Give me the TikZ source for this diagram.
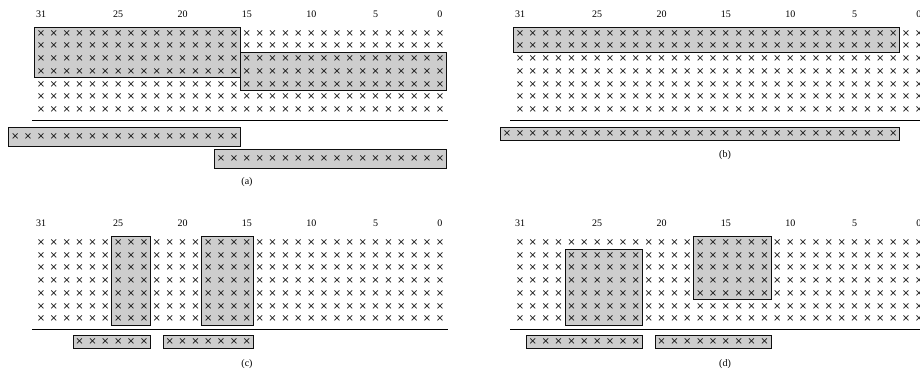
\documentclass[tikz,border=0pt]{standalone}
\usepackage{fontspec}
\setmainfont{Liberation Serif}
\newfontfamily\markfont{DejaVu Sans}
\definecolor{boxgray}{RGB}{205,205,205}
\definecolor{inkgray}{RGB}{15,15,15}
\tikzset{
  markx/.style={inner sep=0pt, font=\markfont\fontsize{10}{10}\selectfont, text=inkgray},
  bitlabel/.style={inner sep=0pt, font=\fontsize{10}{12}\selectfont},
  caption/.style={inner sep=0pt, font=\fontsize{10}{12}\selectfont},
  fieldbox/.style={draw=inkgray, line width=0.8pt, fill=boxgray},
  rule/.style={line width=0.8pt, draw=black},
}
\newcommand\bitx[1]{(41+(31-(#1))*12.87)}
\newcommand\rowy[1]{(33.3+((#1)-1)*12.7)}
% grid of marks for a panel
\newcommand\bitgrid[1]{%
  \foreach \r in {1,...,7}{%
    \foreach \c in {0,...,31}{%
      \node[markx] (#1-\r-\c) at ({\bitx{\c}},{\rowy{\r}}) {×};
    }%
  }%
  \foreach \c in {31,25,20,15,10,5,0}{%
    \node[bitlabel] (#1-l\c) at ({\bitx{\c}},14) {\c};
  }%
}
% shaded field in the grid: col hi, col lo, row top, row bottom
\newcommand\fieldrect[4]{%
  \path[fieldbox] ({\bitx{#1}-6.43},{\rowy{#3}-6.35}) rectangle ({\bitx{#2}+6.43},{\rowy{#4}+6.35});}
% result box below the rule: name, col hi, col lo, y centre, half height
\newcommand\outbox[5]{%
  \path[fieldbox] ({\bitx{#2}-6.43},{#4-#5}) rectangle ({\bitx{#3}+6.43},{#4+#5});
  \foreach \c in {#3,...,#2}{\node[markx] (#1-\c) at ({\bitx{\c}},#4) {×};}}
\begin{document}
\begin{tikzpicture}[x=1pt,y=-1pt]
\clip (0,0) rectangle (920,376);
% ---------- (a)
\begin{scope}
  \fieldrect{31}{16}{1}{4}
  \fieldrect{15}{0}{3}{5}
  \bitgrid{a}
  \coordinate (a-rl) at (32,120);
  \coordinate (a-rr) at (448,120);
  \draw[rule] (a-rl) -- (a-rr);
  \outbox{a-o1}{33}{16}{136.8}{9.2}
  \outbox{a-o2}{17}{0}{159}{9.8}
  \node[caption] (a-cap) at (247,182) {(a)};
\end{scope}
% ---------- (b)
\begin{scope}[shift={(479,0)}]
  \fieldrect{31}{2}{1}{2}
  \bitgrid{b}
  \coordinate (b-rl) at (31,120);
  \coordinate (b-rr) at (460,120);
  \draw[rule] (b-rl) -- (b-rr);
  \outbox{b-o1}{32}{2}{133.5}{6.6}
  \node[caption] (b-cap) at (246,155) {(b)};
\end{scope}
% ---------- (c)
\begin{scope}[shift={(0,209.3)}]
  \fieldrect{25}{23}{1}{7}
  \fieldrect{18}{15}{1}{7}
  \bitgrid{c}
  \coordinate (c-rl) at (32,120);
  \coordinate (c-rr) at (448,120);
  \draw[rule] (c-rl) -- (c-rr);
  \outbox{c-o1}{28}{23}{132.7}{6.7}
  \outbox{c-o2}{21}{15}{132.7}{6.7}
  \node[caption] (c-cap) at (247,154.7) {(c)};
\end{scope}
% ---------- (d)
\begin{scope}[shift={(479,209.3)}]
  \fieldrect{27}{22}{2}{7}
  \fieldrect{17}{12}{1}{5}
  \bitgrid{d}
  \coordinate (d-rl) at (31,120);
  \coordinate (d-rr) at (460,120);
  \draw[rule] (d-rl) -- (d-rr);
  \outbox{d-o1}{30}{22}{132.7}{6.7}
  \outbox{d-o2}{20}{12}{132.7}{6.7}
  \node[caption] (d-cap) at (246,154.7) {(d)};
\end{scope}
\end{tikzpicture}
\end{document}
